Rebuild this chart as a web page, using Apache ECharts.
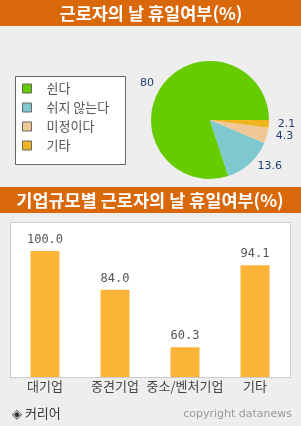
<!DOCTYPE html>
<html>
<head>
<meta charset="utf-8">
<script src="https://cdn.jsdelivr.net/npm/echarts@6/dist/echarts.min.js"></script>
<style>
  html, body { margin: 0; padding: 0; background: #eeeeee; }
  #chart { width: 301px; height: 426px; }
</style>
</head>
<body>
<div id="chart"></div>
<script>
// pie: 근로자의 날 휴일여부
const pieNames = ['쉰다', '쉬지 않는다', '미정이다', '기타'];
const pieValues = [80, 13.6, 4.3, 2.1];
const pieColors = ['#66cc00', '#7ec8d0', '#f0c896', '#f0b41e'];

// bars: 기업규모별
const sizeNames = ['대기업', '중견기업', '중소/벤처기업', '기타'];
const sizeValues = [100.0, 84.0, 60.3, 94.1];

const FONT = '"Noto Sans CJK KR", "DejaVu Sans", sans-serif';
const ORANGE = '#d9680a';

const chart = echarts.init(document.getElementById('chart'));

chart.setOption({
  backgroundColor: '#eeeeee',
  animation: false,
  graphic: [
    { type: 'rect', z: -10, shape: { x: 0, y: 0, width: 301, height: 26 }, style: { fill: ORANGE } },
    { type: 'text', z: 10, x: 151, y: 13, style: { text: '근로자의 날 휴일여부(%)', fill: '#fff', font: 'bold 17.5px ' + FONT, align: 'center', verticalAlign: 'middle' } },
    { type: 'rect', z: -10, shape: { x: 15.5, y: 76.5, width: 110, height: 88 }, style: { fill: '#fff', stroke: '#666', lineWidth: 1 } },
    { type: 'rect', z: -10, shape: { x: 0, y: 187, width: 301, height: 26 }, style: { fill: ORANGE } },
    { type: 'text', z: 10, x: 150, y: 200, style: { text: '기업규모별 근로자의 날 휴일여부(%)', fill: '#fff', font: 'bold 17.5px ' + FONT, align: 'center', verticalAlign: 'middle' } },
    { type: 'rect', z: -10, shape: { x: 10.5, y: 222.5, width: 280, height: 155 }, style: { fill: '#fff', stroke: '#cccccc', lineWidth: 1 } },
    { type: 'text', x: 12, y: 413, style: { text: '◈ 커리어', fill: '#333', font: '13px ' + FONT, verticalAlign: 'middle' } },
    { type: 'text', x: 292, y: 414, style: { text: 'copyright datanews', fill: '#999', font: '11px "DejaVu Sans", sans-serif', align: 'right', verticalAlign: 'middle' } }
  ],
  legend: {
    orient: 'vertical',
    left: 17,
    top: 76,
    itemWidth: 9,
    itemHeight: 9,
    itemGap: 4,
    icon: 'rect',
    itemStyle: { borderColor: '#666', borderWidth: 1 },
    textStyle: { color: '#555', fontSize: 13, fontFamily: FONT, padding: [0, 0, 0, 10], lineHeight: 15 },
    data: pieNames
  },
  grid: { left: 10, right: 11, top: 222, bottom: 49 },
  xAxis: {
    type: 'category',
    data: sizeNames,
    axisLine: { lineStyle: { color: '#cccccc' } },
    axisTick: { length: 4, lineStyle: { color: '#999' } },
    axisLabel: { color: '#444', fontSize: 13, fontFamily: FONT, margin: 3, interval: 0 }
  },
  yAxis: {
    type: 'value',
    min: 48,
    max: 112,
    show: false,
    splitLine: { show: false }
  },
  series: [
    {
      type: 'pie',
      center: [210, 120],
      radius: 59,
      startAngle: 0,
      clockwise: false,
      avoidLabelOverlap: false,
      color: pieColors,
      label: {
        position: 'outside',
        color: '#1e3f6e',
        fontSize: 11,
        fontFamily: '"DejaVu Sans", sans-serif',
        overflow: 'none',
        formatter: (p) => String(p.value)
      },
      labelLine: { show: false, length: 4, length2: 0 },
      emphasis: { disabled: true },
      data: pieNames.map((n, i) => ({ name: n, value: pieValues[i] }))
    },
    {
      type: 'bar',
      barWidth: 29,
      data: sizeValues,
      itemStyle: { color: '#fbb438' },
      label: {
        show: true,
        position: 'top',
        distance: 5,
        color: '#555',
        fontSize: 12,
        fontFamily: '"DejaVu Sans Mono", monospace',
        formatter: (p) => p.value.toFixed(1)
      }
    }
  ]
});
</script>
</body>
</html>
